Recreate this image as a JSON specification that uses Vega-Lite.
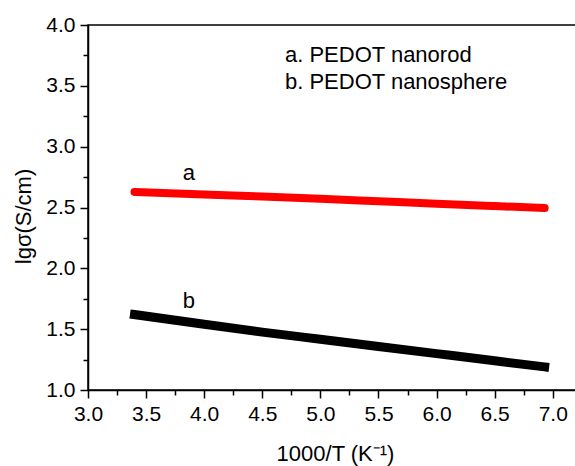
{
  "$schema": "https://vega.github.io/schema/vega-lite/v6.json",
  "width": 488,
  "height": 365,
  "autosize": "none",
  "padding": {"left": 88, "top": 25, "right": 0, "bottom": 76},
  "config": {
    "font": "Liberation Sans",
    "view": {"stroke": "black", "strokeWidth": 1.5},
    "axis": {
      "domainColor": "black",
      "domainWidth": 1.5,
      "tickColor": "black",
      "tickWidth": 1.5,
      "tickSize": 8,
      "labelFontSize": 21,
      "labelColor": "black",
      "labelPadding": 5,
      "titleFontSize": 22,
      "titleFontWeight": "normal",
      "titleColor": "black",
      "grid": false
    }
  },
  "datasets": {
    "curves": [
      {"s": "a", "x": 3.4, "y": 2.628},
      {"s": "a", "x": 4.0, "y": 2.607},
      {"s": "a", "x": 4.5, "y": 2.59},
      {"s": "a", "x": 5.0, "y": 2.571},
      {"s": "a", "x": 5.5, "y": 2.551},
      {"s": "a", "x": 6.0, "y": 2.531},
      {"s": "a", "x": 6.5, "y": 2.512},
      {"s": "a", "x": 6.93, "y": 2.496},
      {"s": "b", "x": 3.4, "y": 1.62},
      {"s": "b", "x": 4.0, "y": 1.54},
      {"s": "b", "x": 4.5, "y": 1.476},
      {"s": "b", "x": 5.0, "y": 1.417},
      {"s": "b", "x": 5.5, "y": 1.358},
      {"s": "b", "x": 6.0, "y": 1.299},
      {"s": "b", "x": 6.5, "y": 1.24},
      {"s": "b", "x": 6.93, "y": 1.19}
    ],
    "tags": [
      {"x": 3.869, "y": 2.726, "t": "a"},
      {"x": 3.869, "y": 1.672, "t": "b"}
    ],
    "legend": [
      {"x": 4.695, "y": 3.698, "t": "a. PEDOT nanorod"},
      {"x": 4.695, "y": 3.471, "t": "b. PEDOT nanosphere"}
    ]
  },
  "resolve": {"axis": {"x": "independent", "y": "independent"}},
  "layer": [
    {
      "data": {"name": "curves"},
      "transform": [{"filter": "datum.s === 'b'"}],
      "mark": {"type": "point", "opacity": 0},
      "encoding": {
        "x": {"field": "x", "type": "quantitative", "scale": {"domain": [3, 7.2], "nice": false, "zero": false},
              "axis": {"orient": "bottom", "values": [3.25, 3.75, 4.25, 4.75, 5.25, 5.75, 6.25, 6.75], "labels": false, "tickSize": 5, "domain": false, "title": null}},
        "y": {"field": "y", "type": "quantitative", "scale": {"domain": [1, 4], "nice": false, "zero": false},
              "axis": {"orient": "left", "values": [1.25, 1.75, 2.25, 2.75, 3.25, 3.75], "labels": false, "tickSize": 5, "domain": false, "title": null}}
      }
    },
    {
      "data": {"name": "curves"},
      "transform": [{"filter": "datum.s === 'a'"}],
      "mark": {"type": "line", "color": "#ff0000", "strokeWidth": 8, "strokeCap": "round", "interpolate": "monotone"},
      "encoding": {
        "x": {"field": "x", "type": "quantitative", "scale": {"domain": [3, 7.2], "nice": false, "zero": false},
              "axis": {"orient": "bottom", "values": [3, 3.5, 4, 4.5, 5, 5.5, 6, 6.5, 7], "format": ".1f", "labelFlush": false, "title": "1000/T (K⁻¹)", "titleX": 247, "titleY": 70, "titleBaseline": "alphabetic", "titleAlign": "center"}},
        "y": {"field": "y", "type": "quantitative", "scale": {"domain": [1, 4], "nice": false, "zero": false},
              "axis": {"orient": "left", "values": [1, 1.5, 2, 2.5, 3, 3.5, 4], "format": ".1f", "labelFlush": false, "title": "lgσ(S/cm)", "titleX": -58, "titleY": 191, "titleAngle": -90, "titleBaseline": "alphabetic", "titleAlign": "center"}}
      }
    },
    {
      "data": {"name": "curves"},
      "transform": [{"filter": "datum.s === 'b'"}],
      "mark": {"type": "line", "color": "#000000", "strokeWidth": 9, "strokeCap": "square", "interpolate": "monotone"},
      "encoding": {
        "x": {"field": "x", "type": "quantitative", "scale": {"domain": [3, 7.2], "nice": false, "zero": false}, "axis": null},
        "y": {"field": "y", "type": "quantitative", "scale": {"domain": [1, 4], "nice": false, "zero": false}, "axis": null}
      }
    },
    {
      "data": {"name": "tags"},
      "mark": {"type": "text", "fontSize": 22, "align": "center", "baseline": "alphabetic", "color": "black"},
      "encoding": {
        "x": {"field": "x", "type": "quantitative", "scale": {"domain": [3, 7.2], "nice": false, "zero": false}, "axis": null},
        "y": {"field": "y", "type": "quantitative", "scale": {"domain": [1, 4], "nice": false, "zero": false}, "axis": null},
        "text": {"field": "t"}
      }
    },
    {
      "data": {"name": "legend"},
      "mark": {"type": "text", "fontSize": 22, "align": "left", "baseline": "alphabetic", "color": "black"},
      "encoding": {
        "x": {"field": "x", "type": "quantitative", "scale": {"domain": [3, 7.2], "nice": false, "zero": false}, "axis": null},
        "y": {"field": "y", "type": "quantitative", "scale": {"domain": [1, 4], "nice": false, "zero": false}, "axis": null},
        "text": {"field": "t"}
      }
    }
  ]
}
